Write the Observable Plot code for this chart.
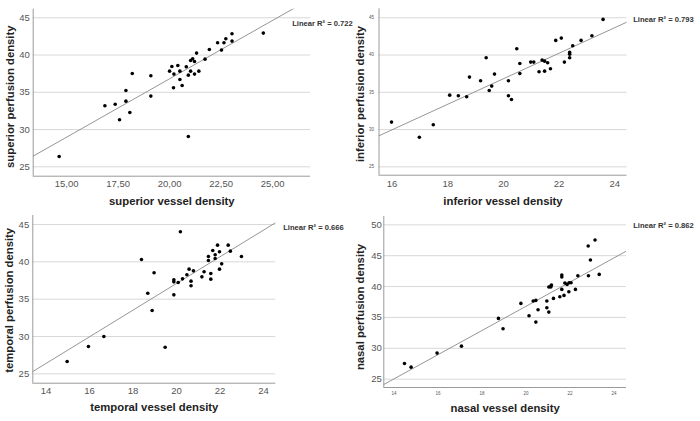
<!DOCTYPE html>
<html><head><meta charset="utf-8">
<script src="https://cdn.jsdelivr.net/npm/d3@7"></script>
<script src="https://cdn.jsdelivr.net/npm/@observablehq/plot@0.6"></script>
<style>
html,body{margin:0;padding:0;background:#fff;}
#root{position:relative;width:700px;height:421px;overflow:hidden;}
#root svg{position:absolute;overflow:visible;}
</style></head><body><div id="root"></div>
<script>
// ---- superior ----
const supX = [14.64, 16.86, 17.36, 17.57, 17.88, 17.88, 18.07, 18.19, 19.09, 19.09, 20.0, 20.11, 20.21, 20.19, 20.4, 20.5, 20.5, 20.61, 20.81, 20.91, 21.02, 21.02, 21.12, 21.21, 21.21, 21.31, 21.42, 20.91, 21.72, 21.93, 22.33, 22.52, 22.64, 22.73, 23.03, 23.03, 24.55];
const supY = [26.39, 33.19, 33.4, 31.31, 35.25, 33.81, 32.29, 37.53, 37.21, 34.49, 37.84, 38.47, 37.44, 35.6, 38.6, 37.84, 36.72, 35.92, 38.42, 37.3, 37.84, 39.27, 39.5, 39.14, 37.44, 40.26, 37.84, 29.07, 39.45, 40.75, 41.64, 40.66, 41.64, 42.18, 42.85, 41.87, 42.94];
// ---- inferior ----
const infX = [15.98, 16.98, 17.48, 18.07, 18.38, 18.68, 18.78, 19.18, 19.38, 19.49, 19.58, 19.68, 20.18, 20.18, 20.29, 20.48, 20.59, 20.59, 20.98, 21.09, 21.28, 21.39, 21.48, 21.48, 21.59, 21.69, 21.88, 22.08, 22.19, 22.38, 22.38, 22.38, 22.49, 22.79, 23.18, 23.58];
const infY = [31.0, 28.98, 30.64, 34.62, 34.53, 34.4, 37.04, 36.54, 39.63, 35.25, 35.83, 37.44, 36.54, 34.53, 34.04, 40.84, 38.87, 37.53, 39.05, 39.05, 37.75, 39.32, 39.18, 37.84, 38.96, 38.15, 41.96, 42.27, 39.05, 40.35, 40.12, 39.63, 41.24, 41.96, 42.58, 44.78];
// ---- temporal ----
const temX = [14.97, 15.95, 16.66, 18.39, 18.68, 18.88, 18.97, 19.48, 19.88, 19.88, 19.88, 20.08, 20.18, 20.28, 20.48, 20.58, 20.67, 20.67, 20.78, 21.17, 21.27, 21.47, 21.47, 21.58, 21.58, 21.67, 21.78, 21.78, 21.89, 21.98, 21.98, 22.08, 22.38, 22.48, 22.99];
const temY = [26.65, 28.66, 30.0, 40.31, 35.8, 33.48, 38.53, 28.57, 37.59, 37.32, 35.58, 37.23, 44.02, 37.72, 38.26, 39.02, 37.41, 36.79, 38.79, 37.99, 38.66, 40.71, 40.18, 38.44, 37.68, 41.52, 40.45, 40.94, 42.23, 41.34, 39.02, 39.73, 42.23, 41.43, 40.71];
// ---- nasal ----
const nasX = [14.48, 14.78, 15.96, 17.07, 18.75, 18.96, 19.77, 20.14, 20.33, 20.45, 20.45, 20.55, 20.95, 20.95, 21.04, 21.04, 21.13, 21.13, 21.16, 21.25, 21.54, 21.63, 21.63, 21.63, 21.73, 21.77, 21.87, 21.95, 21.96, 22.05, 22.25, 22.36, 22.83, 22.84, 22.93, 23.14, 23.33];
const nasY = [27.54, 26.95, 29.22, 30.35, 34.84, 33.16, 37.27, 35.27, 37.65, 37.76, 34.24, 36.24, 37.65, 36.57, 35.86, 39.92, 40.08, 39.92, 40.24, 38.08, 38.35, 39.54, 41.86, 41.54, 38.57, 40.57, 40.35, 39.16, 40.62, 40.62, 39.54, 41.76, 46.57, 41.76, 44.3, 47.54, 41.97];

// fit lines and R² labels
const fitIntercept = [5.47, 2.58, 1.42, -2.4];
const fitSlope = [1.567, 1.712, 1.784, 1.96];
const r2Labels = ["0.722", "0.793", "0.666", "0.862"];

// titles
const xTitles = ["superior vessel density", "inferior vessel density", "temporal vessel density", "nasal vessel density"];
const yTitles = ["superior perfusion density", "inferior perfusion density", "temporal perfusion density", "nasal perfusion density"];

// ticks
const supXTicks = [15, 17.5, 20, 22.5, 25];
const infXTicks = [16, 18, 20, 22, 24];
const temXTicks = [14, 16, 18, 20, 22, 24];
const nasXTicks = [14, 16, 18, 20, 22, 24];
const yTicks45 = [25, 30, 35, 40, 45];
const yTicks50 = [25, 30, 35, 40, 45, 50];

const root = document.getElementById("root");
const FONT = "'Liberation Sans', Arial, sans-serif";

function panel(p) {
  const data = p.x.map((x, i) => ({x, y: p.y[i]}));
  const [x0, x1] = p.xDomain;
  const fit = [x0, x1].map(x => ({x, y: p.a + p.b * x}));
  const chart = Plot.plot({
    width: p.w, height: p.h,
    marginLeft: p.m[0], marginRight: p.m[1], marginTop: p.m[2], marginBottom: p.m[3],
    style: {fontFamily: FONT, background: "transparent", overflow: "visible"},
    x: {domain: p.xDomain},
    y: {domain: p.yDomain},
    marks: [
      Plot.ruleY(p.yTicks, {stroke: "#d8d8d8", strokeWidth: 1}),
      Plot.ruleX([x0], {stroke: "#9a9a9a", strokeWidth: 1}),
      Plot.ruleY([p.yDomain[0]], {stroke: "#9a9a9a", strokeWidth: 1}),
      Plot.axisX(p.xTicks, {tickSize: 0, tickPadding: p.xPad, fontSize: p.xFont, color: "#555", tickFormat: p.xFmt, label: null}),
      Plot.axisY(p.yTicks, {tickSize: 0, tickPadding: p.yPad, fontSize: p.yFont, color: "#555", label: null}),
      Plot.line(fit, {x: "x", y: "y", stroke: "#8a8a8a", strokeWidth: 0.9, clip: true}),
      Plot.dot(data, {x: "x", y: "y", r: 1.8, fill: "#000"}),
      Plot.text([p.xTitle], {text: d => d, frameAnchor: "bottom", textAnchor: "middle", lineAnchor: "middle", dy: p.xTitleDy, fontSize: 11.3, fontWeight: "bold", fill: "#222"}),
      Plot.text([p.yTitle], {text: d => d, frameAnchor: "left", textAnchor: "middle", lineAnchor: "middle", dx: p.yTitleDx, dy: p.yTitleDy || 0, rotate: -90, fontSize: 11.3, fontWeight: "bold", fill: "#222"}),
      Plot.text([p.r2], {text: d => `Linear R² = ${d}`, frameAnchor: "top-right", textAnchor: "start", lineAnchor: "middle", dx: p.r2dx, dy: p.r2dy, fontSize: 7.6, fontWeight: "bold", fill: "#333"})
    ]
  });
  chart.style.left = p.left + "px";
  chart.style.top = p.top + "px";
  root.append(chart);
}

const comma2 = d => d3.format(".2f")(d).replace(".", ",");

panel({x: supX, y: supY, a: fitIntercept[0], b: fitSlope[0], r2: r2Labels[0],
  xTitle: xTitles[0], yTitle: yTitles[0], xTicks: supXTicks, yTicks: yTicks45, xFmt: comma2,
  xDomain: [13.38, 26.84], yDomain: [23.74, 46.15],
  left: 0, top: 0, w: 350, h: 210, m: [32.7, 40, 8.7, 34.3],
  xPad: 4.2, yPad: 3.4, xFont: 9.5, yFont: 9.5, xTitleDy: 25, yTitleDx: -22.7, yTitleDy: 4,
  r2dx: -18.3, r2dy: 14.6});

panel({x: infX, y: infY, a: fitIntercept[1], b: fitSlope[1], r2: r2Labels[1],
  xTitle: xTitles[1], yTitle: yTitles[1], xTicks: infXTicks, yTicks: yTicks45, xFmt: d => String(d),
  xDomain: [15.53, 24.44], yDomain: [23.88, 46.2],
  left: 350, top: 0, w: 350, h: 210, m: [28.5, 73.5, 8.3, 35.3],
  xPad: 5.2, yPad: 5, xFont: 9.5, yFont: 4.5, xTitleDy: 26, yTitleDx: -18.5, yTitleDy: 2,
  r2dx: 6.2, r2dy: 10.7});

panel({x: temX, y: temY, a: fitIntercept[2], b: fitSlope[2], r2: r2Labels[2],
  xTitle: xTitles[2], yTitle: yTitles[2], xTicks: temXTicks, yTicks: yTicks45, xFmt: d => String(d),
  xDomain: [13.39, 24.57], yDomain: [23.75, 46.2],
  left: 0, top: 210, w: 350, h: 211, m: [32.3, 74.7, 5, 38.3],
  xPad: 3.9, yPad: 3.6, xFont: 9.5, yFont: 9.5, xTitleDy: 24.6, yTitleDx: -23, yTitleDy: 1,
  r2dx: 7.4, r2dy: 11.7});

panel({x: nasX, y: nasY, a: fitIntercept[3], b: fitSlope[3], r2: r2Labels[3],
  xTitle: xTitles[3], yTitle: yTitles[3], xTicks: nasXTicks, yTicks: yTicks50, xFmt: d => String(d),
  xDomain: [13.54, 24.57], yDomain: [23.65, 51.35],
  left: 350, top: 210, w: 350, h: 211, m: [33.3, 74, 6, 34],
  xPad: 4.1, yPad: 2, xFont: 4.5, yFont: 9.5, xTitleDy: 20.7, yTitleDx: -23.3, yTitleDy: 5,
  r2dx: 6.7, r2dy: 9});
</script>
</body></html>
